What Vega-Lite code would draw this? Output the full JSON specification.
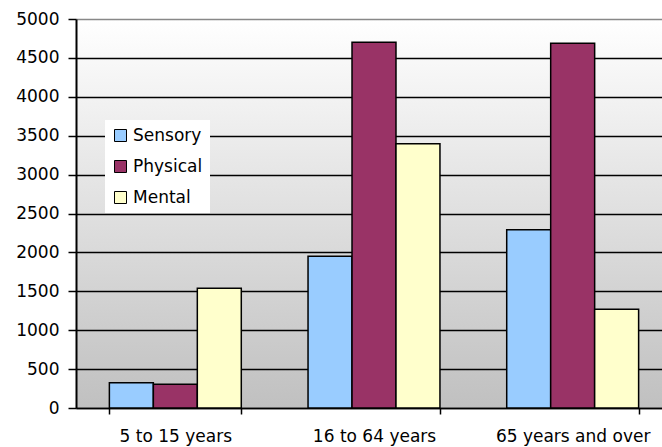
{
  "$schema": "https://vega.github.io/schema/vega-lite/v6.json",
  "width": 586,
  "height": 389,
  "autosize": {"type": "none"},
  "padding": {"left": 76, "top": 19, "right": 0, "bottom": 39},
  "background": "#ffffff",
  "config": {
    "font": "DejaVu Sans",
    "view": {
      "stroke": null,
      "fill": {"gradient": "linear", "x1": 0, "y1": 0, "x2": 0, "y2": 1,
        "stops": [{"offset": 0, "color": "#ffffff"}, {"offset": 1, "color": "#c0c0c0"}]}
    }
  },
  "data": {
    "values": [
      {"age": "5 to 15 years", "type": "Sensory", "value": 325},
      {"age": "5 to 15 years", "type": "Physical", "value": 305},
      {"age": "5 to 15 years", "type": "Mental", "value": 1540},
      {"age": "16 to 64 years", "type": "Sensory", "value": 1950},
      {"age": "16 to 64 years", "type": "Physical", "value": 4700},
      {"age": "16 to 64 years", "type": "Mental", "value": 3395},
      {"age": "65 years and over", "type": "Sensory", "value": 2290},
      {"age": "65 years and over", "type": "Physical", "value": 4688},
      {"age": "65 years and over", "type": "Mental", "value": 1270}
    ]
  },
  "mark": {"type": "bar", "stroke": "#000000", "strokeWidth": 1.5},
  "encoding": {
    "x": {
      "field": "age", "type": "nominal", "sort": null, "title": null,
      "scale": {"range": [0, 596], "paddingInner": 0.336, "paddingOuter": 0.168},
      "axis": {
        "tickBand": "extent", "labelAngle": 0, "labelFontSize": 17, "labelColor": "#000000",
        "domainColor": "#000000", "domainWidth": 1.5, "tickColor": "#000000", "tickWidth": 1.5,
        "tickSize": 6, "labelPadding": 14, "grid": false
      }
    },
    "xOffset": {
      "field": "type", "type": "nominal", "sort": ["Sensory", "Physical", "Mental"],
      "scale": {"paddingInner": 0, "paddingOuter": 0}
    },
    "y": {
      "field": "value", "type": "quantitative", "title": null,
      "scale": {"domain": [0, 5000], "nice": false},
      "axis": {
        "values": [0, 500, 1000, 1500, 2000, 2500, 3000, 3500, 4000, 4500, 5000],
        "format": "d",
        "labelFontSize": 17, "labelColor": "#000000", "labelPadding": 9,
        "tickSize": 8, "tickColor": "#000000", "tickWidth": 1.5,
        "domainColor": "#000000", "domainWidth": 2,
        "grid": true, "gridWidth": 1.5,
        "gridColor": {"condition": {"test": "datum.value == 5000", "value": "#888888"}, "value": "#000000"}
      }
    },
    "color": {
      "field": "type", "type": "nominal", "sort": ["Sensory", "Physical", "Mental"],
      "scale": {"domain": ["Sensory", "Physical", "Mental"], "range": ["#99ccff", "#993366", "#ffffcc"]},
      "legend": {
        "title": null, "orient": "none", "legendX": 29, "legendY": 101,
        "fillColor": "#ffffff", "padding": 7, "symbolType": "square", "symbolSize": 144,
        "symbolStrokeColor": "#000000", "symbolStrokeWidth": 1, "symbolOpacity": 1,
        "labelFontSize": 17, "labelColor": "#000000", "labelOffset": 4, "rowPadding": 13
      }
    }
  }
}
